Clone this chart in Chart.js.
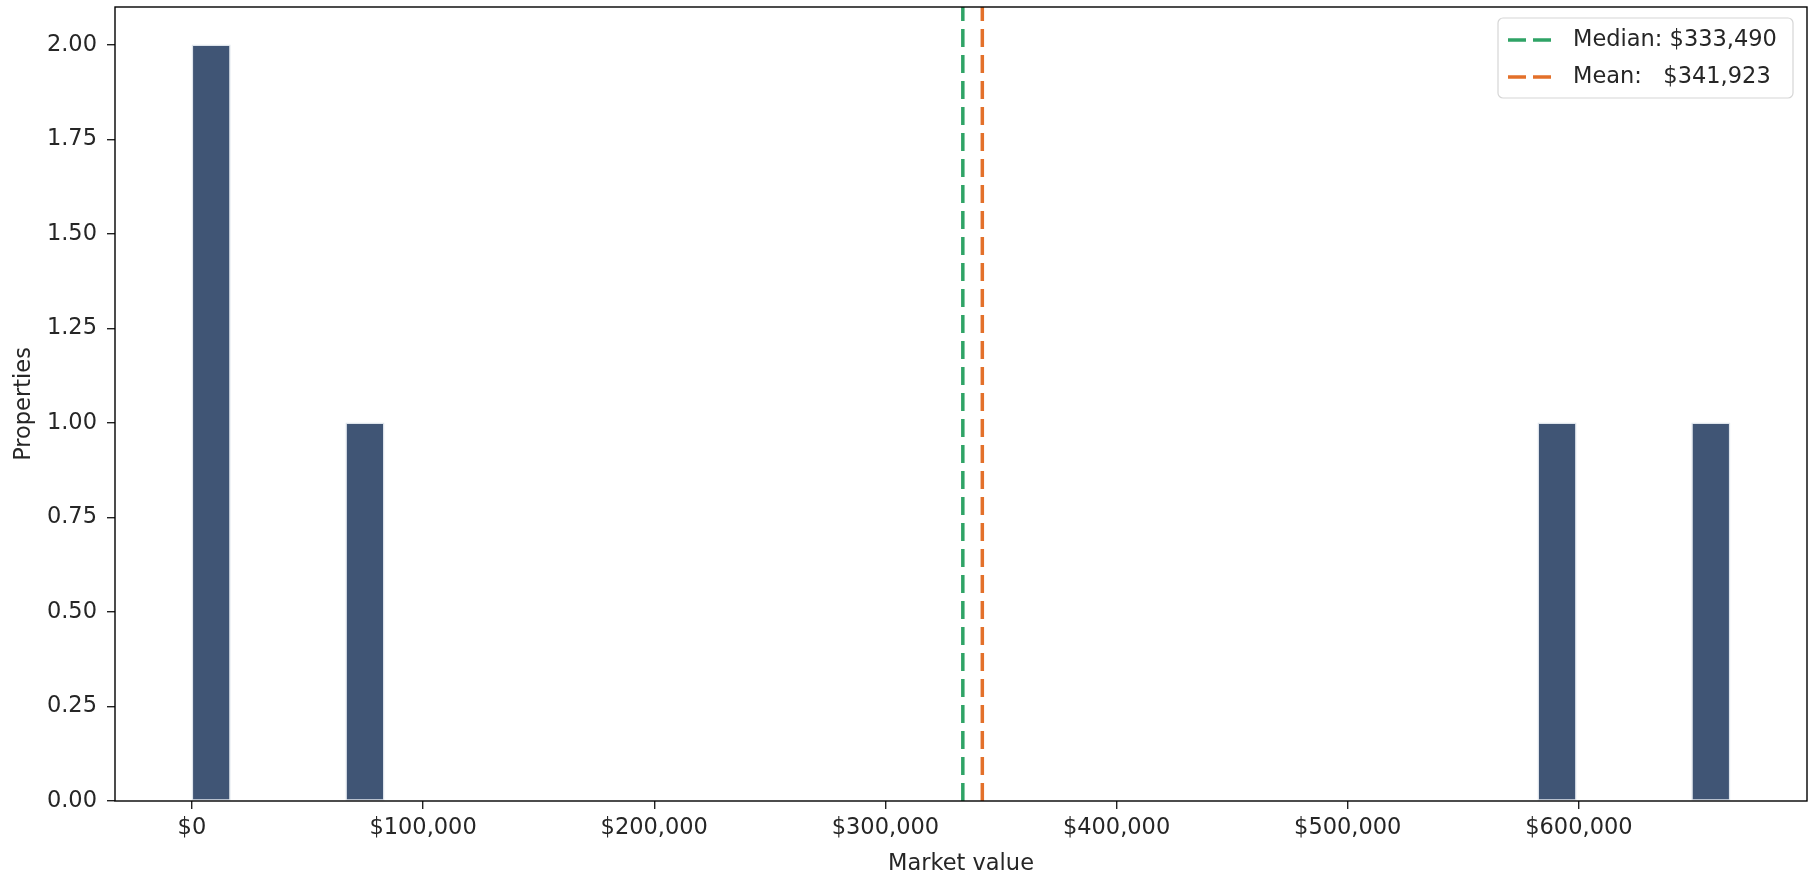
<!DOCTYPE html>
<html>
<head>
<meta charset="utf-8">
<title>Market value histogram</title>
<script src="https://cdn.jsdelivr.net/npm/chart.js@4.4.1/dist/chart.umd.min.js"></script>
<style>
    html, body { margin: 0; padding: 0; background: #ffffff; }
    #wrap { width: 1815px; height: 881px; position: relative; }
</style>
</head>
<body>
<div id="wrap"><canvas id="hist-chart"></canvas></div>
<script>
"use strict";

// Histogram bins (40 equal bins between the lowest and highest value)
const binLow = 0;
const binHigh = 665400;
const binCounts = [
    2, 0, 0, 0, 1, 0, 0, 0, 0, 0,
    0, 0, 0, 0, 0, 0, 0, 0, 0, 0,
    0, 0, 0, 0, 0, 0, 0, 0, 0, 0,
    0, 0, 0, 0, 0, 1, 0, 0, 0, 1
];

// Summary lines
const medianValue = 333490;
const meanValue = 341923;

// Axes
const xRange = [-33270, 698670];
const yRange = [0, 2.1];
const xTickValues = [0, 100000, 200000, 300000, 400000, 500000, 600000];
const yTickValues = [0, 0.25, 0.5, 0.75, 1.0, 1.25, 1.5, 1.75, 2.0];

const FONT = { family: 'DejaVu Sans', size: 22.5 };
const TEXT_COLOR = '#262626';
const BAR_COLOR = '#405575';
const MEDIAN_COLOR = '#2fa366';
const MEAN_COLOR = '#e3702a';

const money = (v) => '$' + Math.round(v).toLocaleString('en-US');

document.addEventListener('DOMContentLoaded', () => {
    initHistogram();
});

/**
 * Frame round the plot area plus the boxed legend in the top right corner
 */
const framePlugin = {
    id: 'frameAndLegend',
    afterDraw(chart) {
        const ctx = chart.ctx;
        const area = chart.chartArea;

        ctx.save();
        ctx.strokeStyle = '#000000';
        ctx.lineWidth = 1.4;
        ctx.strokeRect(area.left, area.top, area.right - area.left, area.bottom - area.top);

        // legend box
        const items = [
            { label: 'Median: ' + money(medianValue), color: MEDIAN_COLOR },
            { label: 'Mean:   ' + money(meanValue), color: MEAN_COLOR }
        ];
        const boxW = 295, boxH = 80;
        const boxX = area.right - 14 - boxW;
        const boxY = area.top + 11;
        ctx.beginPath();
        ctx.roundRect(boxX, boxY, boxW, boxH, 5);
        ctx.fillStyle = 'rgba(255,255,255,0.85)';
        ctx.fill();
        ctx.strokeStyle = '#d6d6d6';
        ctx.lineWidth = 1.2;
        ctx.stroke();

        ctx.font = FONT.size + 'px ' + FONT.family;
        ctx.textBaseline = 'middle';
        ctx.textAlign = 'left';
        items.forEach((item, i) => {
            const y = boxY + 22 + i * 37;
            ctx.beginPath();
            ctx.setLineDash([18, 7]);
            ctx.strokeStyle = item.color;
            ctx.lineWidth = 3.5;
            ctx.moveTo(boxX + 10, y);
            ctx.lineTo(boxX + 53, y);
            ctx.stroke();
            ctx.setLineDash([]);
            ctx.fillStyle = TEXT_COLOR;
            ctx.fillText(item.label, boxX + 75, y);
        });
        ctx.restore();
    }
};

function initHistogram() {
    const canvas = document.getElementById('hist-chart');
    const binWidth = (binHigh - binLow) / binCounts.length;

    const barData = binCounts.map((count, i) => ({
        x: binLow + (i + 0.5) * binWidth,
        y: count
    }));

    const vline = (value) => [
        { x: value, y: yRange[0] },
        { x: value, y: yRange[1] }
    ];

    const lineStyle = (color) => ({
        type: 'line',
        borderColor: color,
        borderWidth: 3.5,
        borderDash: [18, 8],
        pointRadius: 0,
        fill: false,
        order: 1
    });

    new Chart(canvas.getContext('2d'), {
        data: {
            datasets: [
                Object.assign({ label: 'Median', data: vline(medianValue) }, lineStyle(MEDIAN_COLOR)),
                Object.assign({ label: 'Mean', data: vline(meanValue) }, lineStyle(MEAN_COLOR)),
                {
                    type: 'bar',
                    label: 'Properties',
                    data: barData,
                    backgroundColor: BAR_COLOR,
                    borderColor: '#dfe5ec',
                    borderWidth: 1.5,
                    borderSkipped: false,
                    barPercentage: 1,
                    categoryPercentage: 1,
                    order: 2
                }
            ]
        },
        options: {
            responsive: true,
            maintainAspectRatio: false,
            animation: false,
            layout: { padding: { left: 0, right: 8, top: 7, bottom: 0 } },
            plugins: {
                legend: { display: false },
                tooltip: { enabled: false }
            },
            scales: {
                x: {
                    type: 'linear',
                    offset: false,
                    min: xRange[0],
                    max: xRange[1],
                    afterBuildTicks: (scale) => {
                        scale.ticks = xTickValues.map(v => ({ value: v }));
                    },
                    afterFit: (scale) => {
                        scale.height = 80;
                        scale.paddingLeft = 0;
                        scale.paddingRight = 0;
                    },
                    border: { display: false },
                    grid: {
                        display: true,
                        offset: false,
                        drawOnChartArea: false,
                        drawTicks: true,
                        tickLength: 8,
                        tickColor: '#222222',
                        lineWidth: 1.4
                    },
                    ticks: {
                        color: TEXT_COLOR,
                        font: FONT,
                        padding: 6,
                        maxRotation: 0,
                        autoSkip: false,
                        callback: (value) => money(value)
                    },
                    title: {
                        display: true,
                        text: 'Market value',
                        color: TEXT_COLOR,
                        font: FONT,
                        padding: { top: 0, bottom: 3 }
                    }
                },
                y: {
                    type: 'linear',
                    min: yRange[0],
                    max: yRange[1],
                    afterBuildTicks: (scale) => {
                        scale.ticks = yTickValues.map(v => ({ value: v }));
                    },
                    afterFit: (scale) => {
                        scale.width = 115;
                        scale.paddingTop = 0;
                        scale.paddingBottom = 0;
                    },
                    border: { display: false },
                    grid: {
                        display: true,
                        drawOnChartArea: false,
                        drawTicks: true,
                        tickLength: 8,
                        tickColor: '#222222',
                        lineWidth: 1.4
                    },
                    ticks: {
                        color: TEXT_COLOR,
                        font: FONT,
                        padding: 10,
                        autoSkip: false,
                        callback: (value) => value.toFixed(2)
                    },
                    title: {
                        display: true,
                        text: 'Properties',
                        color: TEXT_COLOR,
                        font: FONT,
                        padding: { top: 11, bottom: 0 }
                    }
                }
            }
        },
        plugins: [framePlugin]
    });
}
</script>
</body>
</html>
